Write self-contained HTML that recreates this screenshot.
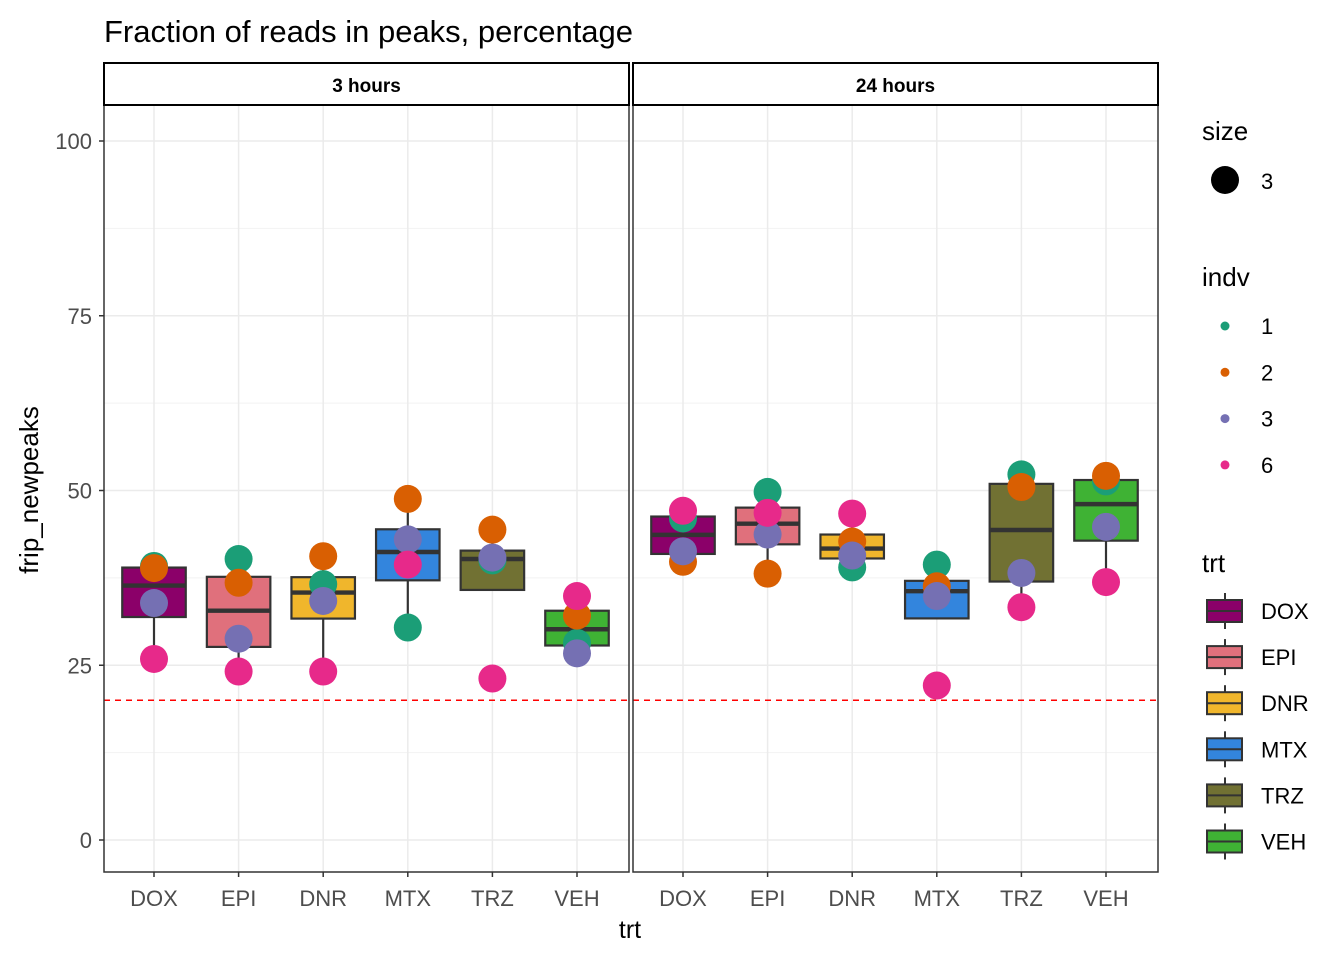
<!DOCTYPE html>
<html><head><meta charset="utf-8"><style>
body{margin:0;background:#fff;font-family:"Liberation Sans",Arial,sans-serif}
svg text{font-family:"Liberation Sans",Arial,sans-serif}
</style></head><body>
<svg id="chart" width="1344" height="960" xmlns="http://www.w3.org/2000/svg"></svg>
<script>
const categories = ["DOX","EPI","DNR","MTX","TRZ","VEH"];
const panels = ["3 hours","24 hours"];
const indvs = ["1","2","3","6"];
const vals3h_1 = [39.2,40.2,36.6,30.4,40.0,28.2];
const vals3h_2 = [38.9,36.8,40.6,48.8,44.4,32.1];
const vals3h_3 = [33.9,28.8,34.2,43.0,40.4,26.7];
const vals3h_6 = [25.9,24.1,24.1,39.4,23.1,34.9];
const vals24h_1 = [46.0,49.8,39.0,39.4,52.3,51.3];
const vals24h_2 = [39.8,38.1,42.7,36.3,50.5,52.1];
const vals24h_3 = [41.3,43.7,40.7,34.9,38.2,44.8];
const vals24h_6 = [47.1,46.8,46.7,22.1,33.3,36.9];
const yTicks = [0,25,50,75,100];
const threshold = 20;

const data = [[vals3h_1,vals3h_2,vals3h_3,vals3h_6],[vals24h_1,vals24h_2,vals24h_3,vals24h_6]];
const indvColors = ["#1B9E77","#D95F02","#7570B3","#E7298A"];
const trtColors = ["#8B0069","#E0707C","#F0B62C","#3385DD","#717133","#3FB234"];
const NS="http://www.w3.org/2000/svg";
const svgRoot=document.getElementById("chart");
function el(tag,attrs,parent){const e=document.createElementNS(NS,tag);for(const k in attrs)e.setAttribute(k,attrs[k]);(parent||svgRoot).appendChild(e);return e;}
const panelX=[104,633], panelW=525, plotTop=105, plotBottom=872;
const yScale=v=>840-(v)*6.99;
function xPos(p,i){return panelX[p]+50+i*84.6;}
function quant(arr,p){const s=[...arr].sort((a,b)=>a-b);const h=(s.length-1)*p;const lo=Math.floor(h);const nx=lo+1<s.length?s[lo+1]:s[lo];return s[lo]+(h-lo)*(nx-s[lo]);}

let t=el("text",{x:104,y:42,"font-size":"31",fill:"#000"});t.textContent="Fraction of reads in peaks, percentage";



panels.forEach((pn,p)=>{
  const px=panelX[p];
  const g=el("g",{});
  
  
  el("rect",{x:px,y:plotTop,width:panelW,height:plotBottom-plotTop,fill:"#fff"},g);
  for(let k=0;k<yTicks.length-1;k++){const v=(yTicks[k]+yTicks[k+1])/2;el("line",{x1:px,x2:px+panelW,y1:yScale(v),y2:yScale(v),stroke:"#F2F2F2","stroke-width":1},g);}
  yTicks.forEach(v=>el("line",{x1:px,x2:px+panelW,y1:yScale(v),y2:yScale(v),stroke:"#EBEBEB","stroke-width":1.5},g));
  categories.forEach((c,i)=>el("line",{x1:xPos(p,i),x2:xPos(p,i),y1:plotTop,y2:plotBottom,stroke:"#EBEBEB","stroke-width":1.5},g));
  categories.forEach((c,i)=>{
    const v=data[p].map(a=>a[i]);
    const q1=quant(v,.25),med=quant(v,.5),q3=quant(v,.75),iqr=q3-q1;
    const inl=v.filter(a=>a>=q1-1.5*iqr&&a<=q3+1.5*iqr);
    const lo=Math.min(...inl),hi=Math.max(...inl);
    const cx=xPos(p,i),w=63.5;
    const bg=el("g",{},g);
    
    
    el("line",{x1:cx,x2:cx,y1:yScale(hi),y2:yScale(q3),stroke:"#333","stroke-width":2.2},bg);
    el("line",{x1:cx,x2:cx,y1:yScale(q1),y2:yScale(lo),stroke:"#333","stroke-width":2.2},bg);
    el("rect",{x:cx-w/2,y:yScale(q3),width:w,height:yScale(q1)-yScale(q3),fill:trtColors[i],stroke:"#333","stroke-width":2.2},bg);
    el("line",{x1:cx-w/2,x2:cx+w/2,y1:yScale(med),y2:yScale(med),stroke:"#333","stroke-width":4.4},bg);
  });
  el("line",{x1:px,x2:px+panelW,y1:yScale(threshold),y2:yScale(threshold),stroke:"#FF0000","stroke-width":1.5,"stroke-dasharray":"6,5"},g);
  indvs.forEach((d,k)=>categories.forEach((c,i)=>{
    const pt=el("circle",{cx:xPos(p,i),cy:yScale(data[p][k][i]),r:14,fill:indvColors[k]},g);
    
    
  }));
  el("rect",{x:px,y:plotTop,width:panelW,height:plotBottom-plotTop,fill:"none",stroke:"#333","stroke-width":1.5},g);
  el("rect",{x:px,y:63,width:panelW,height:42,fill:"#fff",stroke:"#000","stroke-width":2},g);
  const st=el("text",{x:px+panelW/2,y:92,"text-anchor":"middle","font-size":"19","font-weight":"bold"},g);st.textContent=pn;
  
  
  categories.forEach((c,i)=>{
    el("line",{x1:xPos(p,i),x2:xPos(p,i),y1:plotBottom,y2:plotBottom+5,stroke:"#333","stroke-width":1.5},g);
    const tl=el("text",{x:xPos(p,i),y:906,"text-anchor":"middle","font-size":"22",fill:"#4D4D4D"},g);tl.textContent=c;
    
    
  });
});
yTicks.forEach(v=>{
  el("line",{x1:99,x2:104,y1:yScale(v),y2:yScale(v),stroke:"#333","stroke-width":1.5});
  const tl=el("text",{x:92,y:yScale(v)+8,"text-anchor":"end","font-size":"22",fill:"#4D4D4D"});tl.textContent=v;
  
  
});
t=el("text",{x:630,y:938,"text-anchor":"middle","font-size":"25"});t.textContent="trt";


t=el("text",{x:38,y:490,"text-anchor":"middle","font-size":"26",transform:"rotate(-90 38 490)"});t.textContent="frip_newpeaks";



const lg=el("g",{});


function txt(x,yy,s,size){const e=el("text",{x:x,y:yy,"font-size":size},lg);e.textContent=s;return e;}
txt(1202,140,"size",26);
el("circle",{cx:1225,cy:180,r:14,fill:"#000"},lg);
txt(1261,189,"3",22);
txt(1202,286,"indv",26);
indvs.forEach((d,k)=>{
  const cy=326+k*46.3;
  el("circle",{cx:1225,cy:cy,r:4.5,fill:indvColors[k]},lg);
  const e=txt(1261,cy+8,d,22);
  
  
});
txt(1202,572,"trt",26);
categories.forEach((c,i)=>{
  const cy=611+i*46.1;
  el("line",{x1:1225,x2:1225,y1:cy-18,y2:cy+18,stroke:"#333","stroke-width":2},lg);
  el("rect",{x:1207,y:cy-11,width:35,height:22,fill:trtColors[i],stroke:"#333","stroke-width":2},lg);
  el("line",{x1:1207,x2:1242,y1:cy,y2:cy,stroke:"#333","stroke-width":2},lg);
  const e=txt(1261,cy+8,c,22);
  
  
});
</script>
</body></html>
